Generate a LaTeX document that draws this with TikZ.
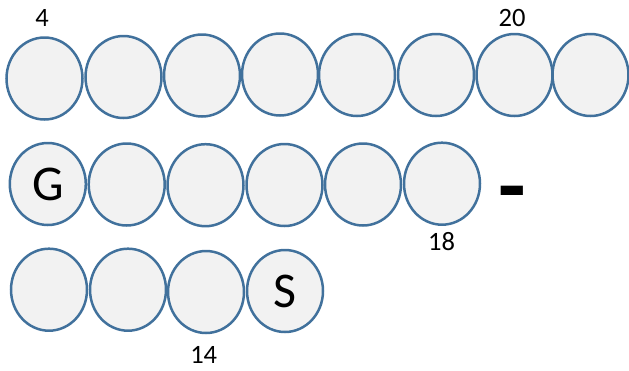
\documentclass[tikz,border=0pt]{standalone}
\usepackage{fontspec}
\setmainfont{Carlito}
\usetikzlibrary{shapes.geometric}
\definecolor{ringblue}{HTML}{41719C}
\definecolor{ringfill}{HTML}{F2F2F2}
\begin{document}
\begin{tikzpicture}[x=1pt,y=-1pt,
  bead/.style={ellipse,draw=ringblue,fill=ringfill,line width=2.5pt,
    minimum width=76pt,minimum height=82pt,inner sep=0pt,
    font=\fontsize{50}{50}\selectfont},
  num/.style={font=\fontsize{26.5}{26.5}\selectfont,inner sep=0pt},
  bar/.style={font=\fontsize{90}{90}\selectfont\bfseries,inner sep=0pt,anchor=base}]
\useasboundingbox (0,0) rectangle (629,370);
% row 1
\foreach \x/\y [count=\i] in {44.5/78.5,123.5/77,202/75.5,280/74.5,357/75,436/75,514.5/75,590.5/75}
  \node[bead] (a\i) at (\x,\y) {};
% row 2
\node[bead] (b1) at (47.8,184) {G};
\foreach \x/\y [count=\i from 2] in {126.7/184.5,205.5/185.2,284.5/185,363/184.5,442/183.7}
  \node[bead] (b\i) at (\x,\y) {};
% row 3
\foreach \x/\y [count=\i] in {49/289.7,128/289.7,206/292}
  \node[bead] (c\i) at (\x,\y) {};
\node[bead] (c4) at (285,291) {S};
% labels
\node[num] (l4) at (42,18.3) {4};
\node[num] (l20) at (512,18) {20};
\node[num] (l18) at (441.5,241.5) {18};
\node[num] (l14) at (203.7,355) {14};
\node[bar] (dash) at (512,216) {-};
\end{tikzpicture}
\end{document}
